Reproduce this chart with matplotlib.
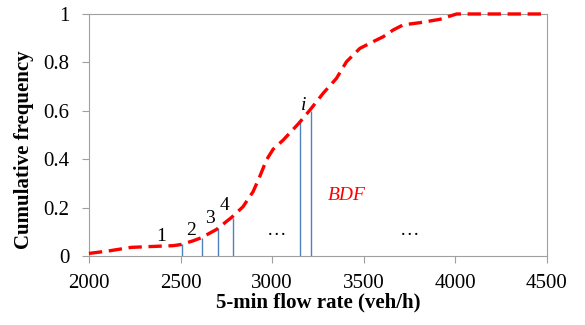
import numpy as np
import matplotlib
matplotlib.use('Agg')
import matplotlib.pyplot as plt

plt.rcParams['font.family'] = ['Liberation Serif', 'DejaVu Serif']

# cumulative distribution
flow = [2000, 2113, 2230, 2386, 2459, 2504, 2568, 2614, 2696, 2779, 2841, 2896,
        2932, 2969, 3005, 3060, 3145, 3206, 3278, 3351, 3406, 3479, 3552, 3606,
        3661, 3715, 3806, 3916, 4007, 4500]
cum = [0.011, 0.022, 0.036, 0.041, 0.043, 0.048, 0.063, 0.076, 0.11, 0.16, 0.204, 0.266,
       0.328, 0.397, 0.441, 0.479, 0.548, 0.603, 0.672, 0.734, 0.803, 0.858, 0.886, 0.906,
       0.934, 0.955, 0.964, 0.978, 1.0, 1.0]

# blue bins
bin_x = [2508, 2617, 2704, 2785, 3152, 3213]
bin_y = [0.048, 0.076, 0.114, 0.156, 0.562, 0.600]
bin_labels = ['1', '2', '3', '4']

fig = plt.figure(figsize=(5.85, 3.25), dpi=100)
ax = fig.add_axes([0.152, 0.212, 0.783, 0.745])

ax.vlines(bin_x, 0, bin_y, color='#4f81bd', linewidth=1)
ax.plot(flow, cum, color='red', linestyle=(0, (4, 2)), linewidth=2.4, zorder=3, clip_on=False)

# labels for the bins
lab_pos = [(2395, 0.08), (2559, 0.107), (2659, 0.156), (2741, 0.21)]
for lab, (x, y) in zip(bin_labels, lab_pos):
    ax.text(x, y, lab, fontsize=14, ha='center', va='center')
ax.text(3169, 0.62, 'i', fontsize=14, style='italic', ha='center', va='center')
ax.text(3023, 0.105, '…', fontsize=14, ha='center', va='center')
ax.text(3752, 0.105, '…', fontsize=14, ha='center', va='center')
ax.text(3406, 0.25, 'BDF', fontsize=14, style='italic', color='red', ha='center', va='center')

ax.set_xlim(2000, 4500)
ax.set_ylim(0, 1)
ax.set_xticks([2000, 2500, 3000, 3500, 4000, 4500])
ax.set_yticks([0, 0.2, 0.4, 0.6, 0.8, 1])
ax.set_yticklabels(['0', '0.2', '0.4', '0.6', '0.8', '1'])
ax.tick_params(labelsize=15, color='#a0a0a0', length=5, direction='out')
ax.tick_params(axis='x', pad=8)
ax.tick_params(axis='y', pad=9)
for s in ax.spines.values():
    s.set_color('#a0a0a0')

ax.set_xlabel('5-min flow rate (veh/h)', fontsize=15, fontweight='bold')
ax.set_ylabel('Cumulative frequency', fontsize=15, fontweight='bold')
ax.yaxis.set_label_coords(-0.12, 0.44)
ax.xaxis.set_label_coords(0.5, -0.15)

fig.savefig('out.png', dpi=100)
